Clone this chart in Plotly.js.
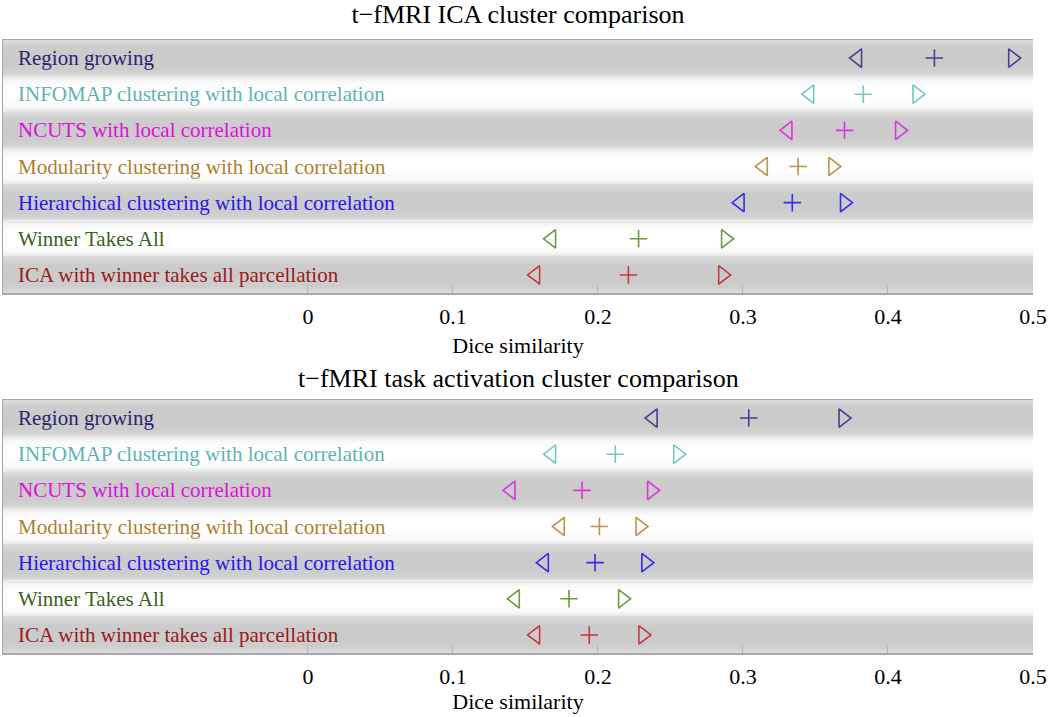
<!DOCTYPE html>
<html>
<head>
<meta charset="utf-8">
<script src="https://cdn.plot.ly/plotly-3.0.1.min.js"></script>
<style>
  html, body { margin: 0; padding: 0; background: #ffffff; }
  #chart { width: 1050px; height: 717px; }
</style>
</head>
<body>
<div id="chart"></div>
<script>
// ---------------- data ----------------
const categories = [
  "Region growing",
  "INFOMAP clustering with local correlation",
  "NCUTS with local correlation",
  "Modularity clustering with local correlation",
  "Hierarchical clustering with local correlation",
  "Winner Takes All",
  "ICA with winner takes all parcellation"
];
const labelColors  = ["#2b2570", "#5bb5b5", "#e010e0", "#b07e30", "#2c14f0", "#3a6218", "#9a1a1a"];
const markerColors = ["#44408a", "#74c6c6", "#dd33dd", "#c0924a", "#3a2af0", "#6a9c40", "#c23a3a"];

const icaLow   = [0.379, 0.346, 0.331, 0.314, 0.298, 0.168, 0.157];
const icaMean  = [0.432, 0.383, 0.370, 0.338, 0.334, 0.228, 0.221];
const icaHigh  = [0.486, 0.420, 0.408, 0.362, 0.370, 0.288, 0.286];

const taskLow  = [0.238, 0.168, 0.140, 0.174, 0.163, 0.143, 0.157];
const taskMean = [0.304, 0.212, 0.189, 0.201, 0.198, 0.180, 0.194];
const taskHigh = [0.369, 0.255, 0.237, 0.229, 0.233, 0.217, 0.231];

const xTickVals = [0, 0.1, 0.2, 0.3, 0.4, 0.5];
const xTickText = ["0", "0.1", "0.2", "0.3", "0.4", "0.5"];

const titleTop = "t\u2212fMRI ICA cluster comparison";
const titleBottom = "t\u2212fMRI task activation cluster comparison";
const xTitle = "Dice similarity";

// ---------------- styling ----------------
const FONT = "'Liberation Serif', 'Times New Roman', Times, serif";
const H = 717;

function markerTrace(xs, symbol, size, xa, ya) {
  return {
    type: "scatter", mode: "markers",
    x: xs, y: categories, xaxis: xa, yaxis: ya,
    hoverinfo: "x+y", showlegend: false, cliponaxis: false,
    marker: {
      symbol: symbol, size: size,
      color: markerColors,
      line: { color: markerColors, width: 1.6 }
    }
  };
}

const traces = [
  markerTrace(icaLow,  "triangle-left-open",  16, "x",  "y"),
  markerTrace(icaMean, "cross-thin-open",     12.5, "x",  "y"),
  markerTrace(icaHigh, "triangle-right-open", 16, "x",  "y"),
  markerTrace(taskLow,  "triangle-left-open",  16, "x2", "y2"),
  markerTrace(taskMean, "cross-thin-open",     12.5, "x2", "y2"),
  markerTrace(taskHigh, "triangle-right-open", 16, "x2", "y2")
];

// shaded row bands: base colour per row, then overlapping edge layers
// (each layer starts at the row edge, so there are no hairline gaps)
function grey(v) { v = Math.round(v); return "rgb(" + v + "," + v + "," + v + ")"; }
function bandShapes(xref, yref) {
  const out = [];
  const STEPS = 10;
  const maxDepth = 0.35;
  for (let i = 0; i < categories.length; i++) {
    const isGrey = (i % 2 === 0);
    const top = i - 0.5, bot = i + 0.5;
    out.push({
      type: "rect", layer: "below",
      xref: xref + " domain", x0: 0, x1: 1,
      yref: yref, y0: top, y1: bot,
      fillcolor: isGrey ? grey(203) : grey(255),
      line: { width: 0 }
    });
    for (let k = 0; k < STEPS; k++) {
      const depth = maxDepth * (STEPS - k) / STEPS;
      const e = Math.exp(-(depth - maxDepth / STEPS / 2) / 0.1);
      const v = isGrey ? 203 + 22 * e : 255 - 30 * e;
      out.push({
        type: "rect", layer: "below",
        xref: xref + " domain", x0: 0, x1: 1,
        yref: yref, y0: top, y1: top + depth,
        fillcolor: grey(v), line: { width: 0 }
      });
      out.push({
        type: "rect", layer: "below",
        xref: xref + " domain", x0: 0, x1: 1,
        yref: yref, y0: bot - depth, y1: bot,
        fillcolor: grey(v), line: { width: 0 }
      });
    }
  }
  return out;
}

function rowLabels(yref) {
  return categories.map((c, i) => ({
    xref: "paper", x: 0, xanchor: "left", xshift: 13,
    yref: yref, y: c, yanchor: "middle",
    text: c, showarrow: false,
    font: { family: FONT, size: 21, color: labelColors[i] }
  }));
}

function xAxis(anchor, titleStandoff) {
  return {
    anchor: anchor,
    domain: [0, 1],
    range: [-0.2103, 0.5],
    tickvals: xTickVals, ticktext: xTickText,
    ticks: "inside", ticklen: 8, tickcolor: "#b8b8b8", tickwidth: 1,
    ticklabelstandoff: 3,
    showgrid: false, zeroline: false,
    showline: true, linecolor: "#a8a8a8", linewidth: 1.5, mirror: true,
    tickfont: { family: FONT, size: 22, color: "#000" },
    title: { text: xTitle, font: { family: FONT, size: 22, color: "#000" }, standoff: titleStandoff },
    fixedrange: true
  };
}

function yAxis(top, bottom) {
  return {
    domain: [1 - bottom / H, 1 - top / H],
    type: "category",
    categoryarray: categories, categoryorder: "array",
    range: [categories.length - 0.5, -0.5],
    showticklabels: false, ticks: "",
    showgrid: false, zeroline: false,
    showline: true, linecolor: "#a8a8a8", linewidth: 1.5,
    fixedrange: true
  };
}

const layout = {
  width: 1050, height: 717,
  margin: { l: 3, r: 17, t: 0, b: 0 },
  paper_bgcolor: "#ffffff", plot_bgcolor: "#ffffff",
  font: { family: FONT, color: "#000" },
  showlegend: false,
  title: {
    text: titleTop,
    font: { family: FONT, size: 26, color: "#000" },
    x: 0.5, xref: "paper", xanchor: "center",
    y: 1 - 14 / H, yref: "container", yanchor: "middle"
  },
  xaxis: xAxis("y", 9),
  yaxis: yAxis(40, 293),
  xaxis2: xAxis("y2", 3),
  yaxis2: yAxis(400, 653),
  shapes: bandShapes("x", "y").concat(bandShapes("x2", "y2")),
  annotations: rowLabels("y").concat(rowLabels("y2")).concat([{
    xref: "paper", x: 0.5, xanchor: "center",
    yref: "paper", y: 1 - 378 / H, yanchor: "middle",
    text: titleBottom, showarrow: false,
    font: { family: FONT, size: 26, color: "#000" }
  }])
};

Plotly.newPlot("chart", traces, layout, { displayModeBar: false, staticPlot: true });
</script>
</body>
</html>
